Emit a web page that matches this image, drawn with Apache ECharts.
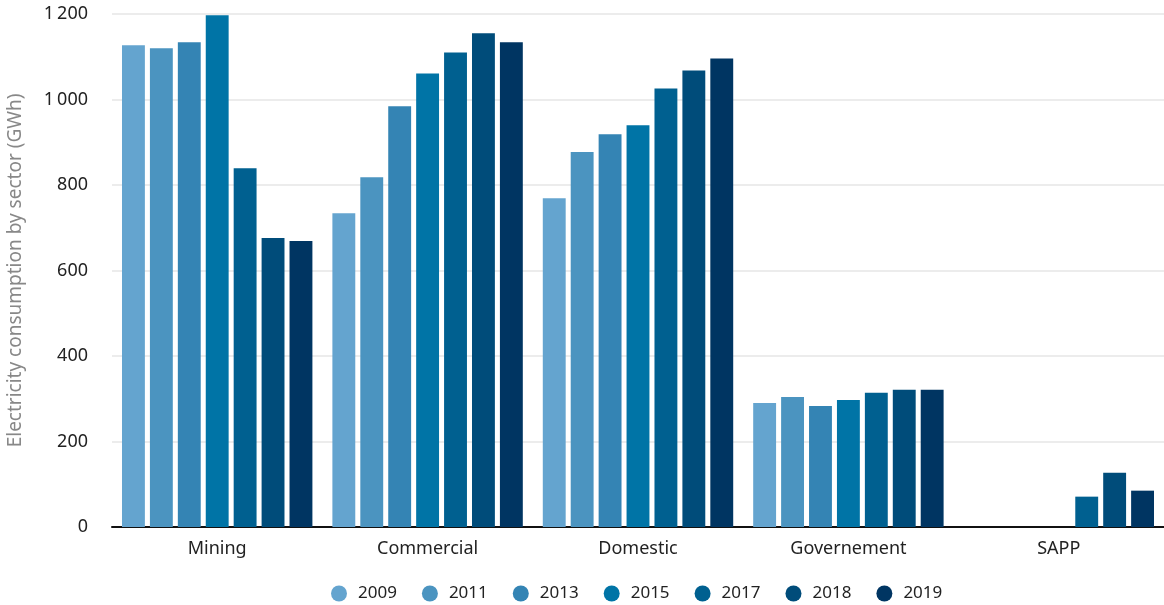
<!DOCTYPE html>
<html><head><meta charset="utf-8">
<script src="https://cdn.jsdelivr.net/npm/echarts@6/dist/echarts.min.js"></script>
<style>html,body{margin:0;padding:0;background:#fff}#c{width:1164px;height:605px}</style>
</head><body><div id="c"></div>
<script>
const categories = ["Mining", "Commercial", "Domestic", "Governement", "SAPP"];
const years = ["2009", "2011", "2013", "2015", "2017", "2018", "2019"];
const v2009 = [1127, 734, 769, 290, null];
const v2011 = [1120, 818, 877, 304, null];
const v2013 = [1134, 984, 919, 283, null];
const v2015 = [1197, 1061, 940, 297, null];
const v2017 = [839, 1110, 1026, 314, 71];
const v2018 = [676, 1155, 1068, 321, 127];
const v2019 = [669, 1134, 1096, 321, 85];
const yTicks = [0, 200, 400, 600, 800, 1000, 1200];
const colors = ["#64a4cf", "#4b94c0", "#3484b4", "#0074a6", "#006090", "#004c7a", "#003562"];
const values = [v2009, v2011, v2013, v2015, v2017, v2018, v2019];
const FONT = "Noto Sans";
const chart = echarts.init(document.getElementById('c'), null, {renderer: 'canvas'});
chart.setOption({
  animation: false,
  color: colors,
  textStyle: {fontFamily: FONT},
  grid: {left: 112, right: 0, top: 14, bottom: 78, containLabel: false, outerBoundsMode: 'none'},
  legend: {
    top: 585, left: 331, icon: 'circle', itemWidth: 16, itemHeight: 16, itemGap: 25,
    padding: 0,
    textStyle: {fontSize: 17, color: '#222', fontFamily: FONT, padding: [0, 0, 0, 6]}
  },
  xAxis: {
    type: 'category', data: categories,
    axisLine: {lineStyle: {color: '#111', width: 2}},
    axisTick: {show: false},
    axisLabel: {fontSize: 18, color: '#222', margin: 13, fontFamily: FONT}
  },
  yAxis: {
    type: 'value', min: yTicks[0], max: yTicks[yTicks.length - 1], interval: 200,
    name: 'Electricity consumption by sector (GWh)', nameLocation: 'middle', nameGap: 87,
    nameTextStyle: {fontSize: 19, color: '#888', fontFamily: FONT},
    axisLabel: {fontSize: 18, color: '#222', margin: 24, fontFamily: FONT,
      formatter: v => v >= 1000 ? Math.floor(v / 1000) + '\u2009' + String(v % 1000).padStart(3, '0') : String(v)},
    splitLine: {lineStyle: {color: '#e6e6e6', width: 1.5}},
    axisLine: {show: false}, axisTick: {show: false}
  },
  series: years.map((y, i) => ({
    name: y, type: 'bar', data: values[i],
    barGap: '22%', barCategoryGap: '9.5%'
  }))
});
</script></body></html>
